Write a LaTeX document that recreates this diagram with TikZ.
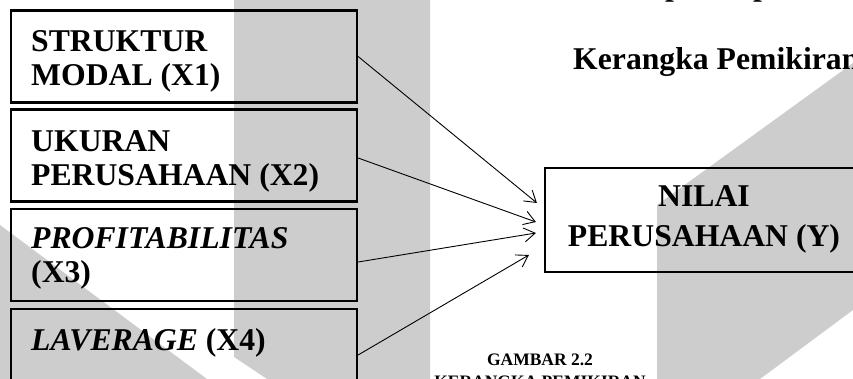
\documentclass[tikz,border=0pt]{standalone}
\usepackage{fontspec}
\setmainfont{Liberation Serif}
\usetikzlibrary{arrows.meta,calc}
\definecolor{wm}{RGB}{205,205,205}
\begin{document}
\begin{tikzpicture}[x=1pt,y=-1pt,
  box/.style={draw, line width=2.2pt, minimum width=346pt, minimum height=92pt, inner sep=0pt},
  lbl/.style={anchor=base west, inner sep=0pt, font=\fontsize{31.7}{34}\selectfont\bfseries},
  captxt/.style={anchor=base, inner sep=0pt, font=\fontsize{17.5}{20}\selectfont\bfseries},
  arr/.style={line width=0.9pt, -{Straight Barb[length=11pt,width=14pt]}}
]
\useasboundingbox (0,0) rectangle (853,379);
\clip (0,0) rectangle (853,379);
% watermark
\fill[wm] (234,0) -- (430,0) -- (430,379) -- (267,379) -- (234,357) -- cycle;
\fill[wm] (0,225) -- (207,379) -- (0,379) -- cycle;
\fill[wm] (853,63) -- (657,205) -- (657,379) -- (760,379) -- (853,310) -- cycle;
% boxes
\node[box] (b1) at (184,56.5) {};
\node[box] (b2) at (184,155.5) {};
\node[box] (b3) at (184,255) {};
\node[box] (b4) at (184,355) {};
\node[box, minimum width=318pt, minimum height=104pt] (y) at (704,220) {};
% texts
\node[lbl] (t1a) at (31,52) {STRUKTUR};
\node[lbl] (t1b) at (31,86) {MODAL (X1)};
\node[lbl] (t2a) at (31,152) {UKURAN};
\node[lbl] (t2b) at (31,186) {PERUSAHAAN (X2)};
\node[lbl] (t3a) at (31,248) {\itshape PROFITABILITAS};
\node[lbl] (t3b) at (31,282) {(X3)};
\node[lbl] (t4a) at (31,350) {\textit{LAVERAGE} (X4)};
\node[lbl, anchor=base] (y1) at (704,207) {NILAI};
\node[lbl, anchor=base] (y2) at (704,247) {PERUSAHAAN (Y)};
\node[lbl] (k) at (573,70) {Kerangka Pemikiran};
\node[lbl] (p1) at (665,-4) {p};
\node[lbl] (p2) at (753,-4) {p};
\node[captxt] (g1) at (540,365) {GAMBAR 2.2};
\node[captxt] (g2) at (540,387) {KERANGKA PEMIKIRAN};
% arrows
\draw[arr] (b1.east) -- ($(y.west)+(-7,-17)$);
\draw[arr] ([yshift=-2.5pt]b2.east) -- ($(y.west)+(-8,2)$);
\draw[arr] ([yshift=-7pt]b3.east) -- ($(y.west)+(-8,13)$);
\draw[arr] (b4.east) -- ($(y.west)+(-15,35)$);
\end{tikzpicture}
\end{document}
